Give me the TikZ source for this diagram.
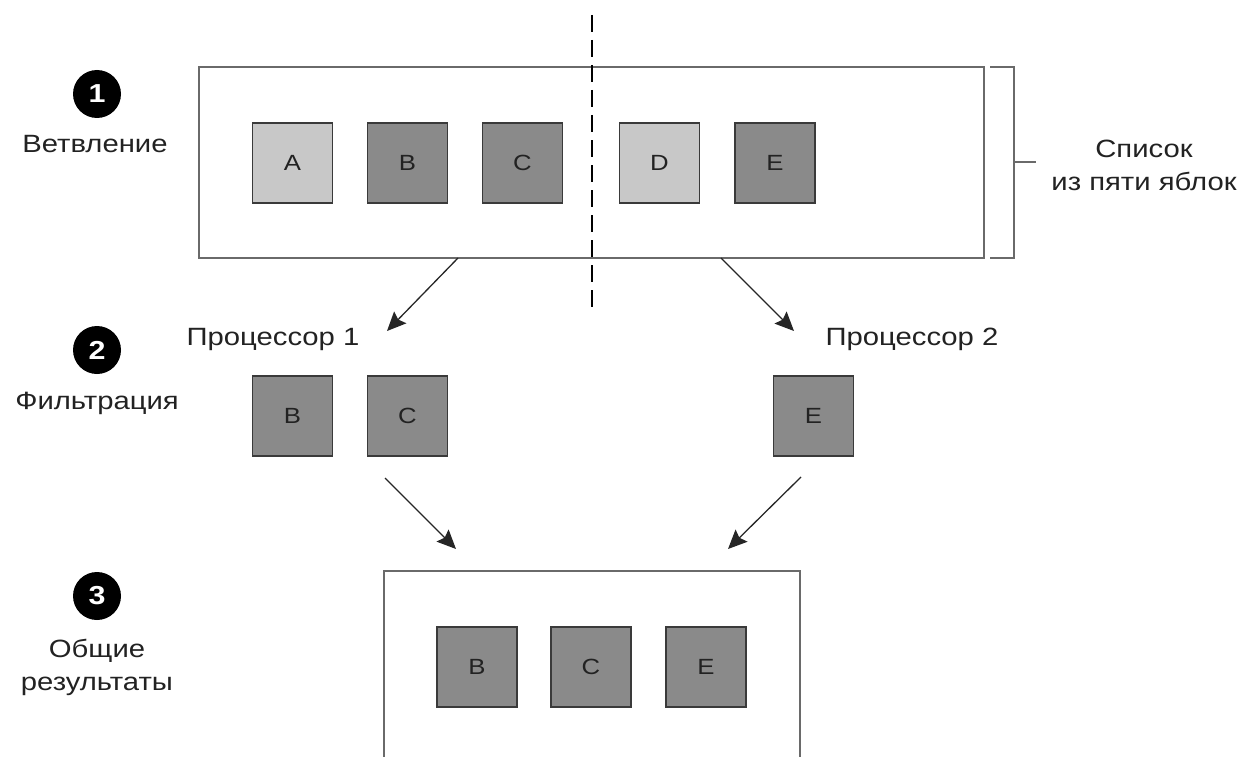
\documentclass[tikz,border=0pt]{standalone}
\usepackage{fontspec}
\setmainfont[FakeStretch=1.17]{Liberation Sans}
\usetikzlibrary{arrows.meta,positioning}
\definecolor{lightsq}{HTML}{C8C8C8}
\definecolor{darksq}{HTML}{8A8A8A}
\definecolor{edgegray}{HTML}{3A3A3A}
\definecolor{boxgray}{HTML}{6A6A6A}
\definecolor{txt}{HTML}{222222}
\begin{document}
\begin{tikzpicture}[x=1pt,y=-1pt,
  sq/.style={draw=edgegray,line width=1.4pt,minimum size=80pt,inner sep=0pt,
    font=\fontsize{22}{24}\selectfont,text=txt},
  lsq/.style={sq,fill=lightsq},
  dsq/.style={sq,fill=darksq},
  num/.style={circle,fill=black,text=white,minimum size=48pt,inner sep=0pt,
    font=\fontsize{26}{28}\selectfont\bfseries},
  lbl/.style={font=\fontsize{25}{33}\selectfont,text=txt,align=center,inner sep=0pt},
  frame/.style={draw=boxgray,line width=1.5pt},
  arr/.style={draw=black!85,line width=1.3pt,-{Stealth[length=19pt,width=17pt,inset=3pt]}}
]
\useasboundingbox (0,0) rectangle (1244,757);

% stage 1
\node[frame,minimum width=785pt,minimum height=191pt,inner sep=0pt] (top) at (591.5,162.5) {};
\node[lsq] (A) at (292.5,163) {A};
\node[dsq] (B) at (407.5,163) {B};
\node[dsq] (C) at (522.5,163) {C};
\node[lsq] (D) at (659.5,163) {D};
\node[dsq] (E) at (775,163) {E};

\coordinate (dtop) at (592,15);
\coordinate (dbot) at (592,307);
\draw[line width=1.3pt,dash pattern=on 17pt off 8pt] (dtop) -- (dbot);

\node[num] (n1) at (97,94) {1};
\node[lbl,anchor=base] (l1) at (95,152) {Ветвление};

% bracket
\coordinate (bt) at (990,67);
\coordinate (bb) at (990,258);
\coordinate (bm) at (1014,162);
\coordinate (bm2) at (1036,162);
\draw[frame] (bt) -- (bt -| bm) -- (bb -| bm) -- (bb);
\draw[frame] (bm) -- (bm2);
\node[lbl] (lst) at (1144,165) {Список\\из пяти яблок};

% stage 2
\node[num] (n2) at (97,350) {2};
\node[lbl,anchor=base] (l2) at (97,409) {Фильтрация};
\node[lbl,anchor=base] (p1) at (273,345) {Процессор 1};
\node[lbl,anchor=base] (p2) at (912,345) {Процессор 2};
\node[dsq] (B2) at (292.5,416) {B};
\node[dsq] (C2) at (407.5,416) {C};
\node[dsq] (E2) at (813.5,416) {E};

\coordinate (s1) at (458,258);
\coordinate (e1) at (387,331);
\coordinate (s2) at (721,258);
\coordinate (e2) at (794,331);
\draw[arr] (s1) -- (e1);
\draw[arr] (s2) -- (e2);

% stage 3
\coordinate (s3) at (385,478);
\coordinate (e3) at (456,549);
\coordinate (s4) at (801,477);
\coordinate (e4) at (728,549);
\draw[arr] (s3) -- (e3);
\draw[arr] (s4) -- (e4);

\coordinate (bl) at (384,757);
\coordinate (btl) at (384,571);
\coordinate (btr) at (800,571);
\coordinate (br) at (800,757);
\draw[frame] (bl) -- (btl) -- (btr) -- (br);

\node[num] (n3) at (97,596) {3};
\node[lbl] (l3) at (97,667) {Общие\\результаты};
\node[dsq] (B3) at (477,667) {B};
\node[dsq] (C3) at (591,667) {C};
\node[dsq] (E3) at (706,667) {E};
\end{tikzpicture}
\end{document}
